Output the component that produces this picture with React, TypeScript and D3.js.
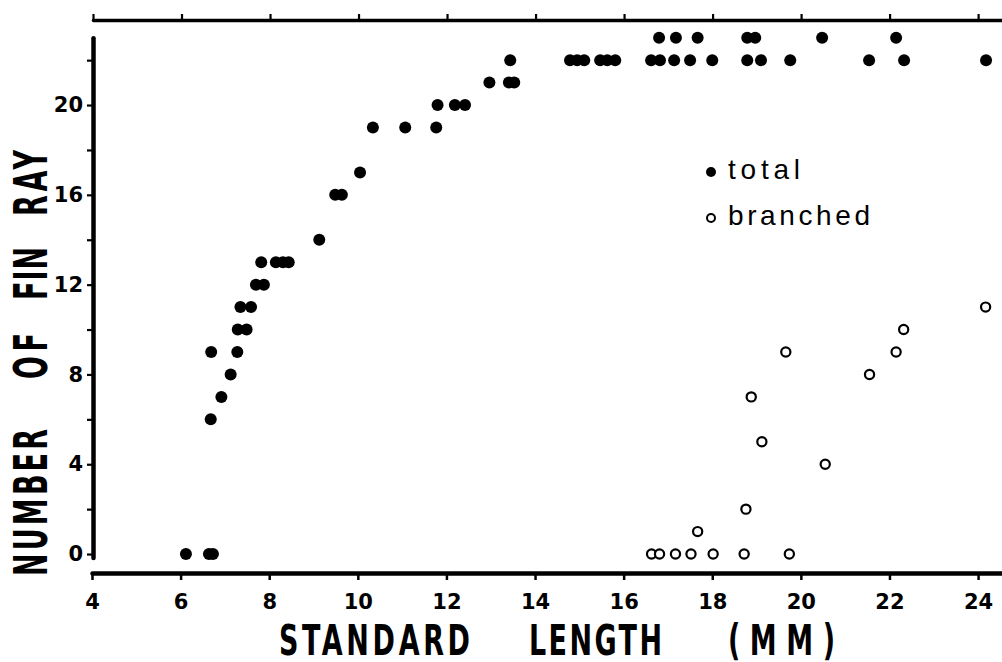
import React, { useEffect, useRef } from "react";
import * as d3 from "d3";

// total fin rays: standard length (mm) and count
const totalLength = [
  6.12, 6.64, 6.73, 6.68, 6.92, 6.69, 7.13, 7.28, 7.29, 7.49, 7.35, 7.59, 7.7, 7.88,
  7.82, 8.15, 8.31, 8.44, 9.13, 9.49, 9.64, 10.05, 10.34, 11.07, 11.77, 11.8, 12.19,
  12.42, 12.97, 13.41, 13.53, 13.44, 14.79, 14.95, 15.11, 15.47, 15.63, 15.81, 16.62,
  16.82, 17.14, 17.5, 18.0, 18.79, 19.1, 19.76, 21.54, 22.33, 24.18, 16.8, 17.18,
  17.67, 18.79, 18.97, 20.48, 22.15,
];
const totalRays = [
  0, 0, 0, 6, 7, 9, 8, 9, 10, 10, 11, 11, 12, 12,
  13, 13, 13, 13, 14, 16, 16, 17, 19, 19, 19, 20, 20,
  20, 21, 21, 21, 22, 22, 22, 22, 22, 22, 22, 22,
  22, 22, 22, 22, 22, 22, 22, 22, 22, 22, 23, 23,
  23, 23, 23, 23, 23,
];

// branched fin rays
const branchedLength = [
  16.63, 16.81, 17.17, 17.52, 18.02, 18.72, 19.74, 17.67, 18.76, 19.12, 18.88, 19.66,
  20.55, 21.55, 22.15, 22.32, 24.17,
];
const branchedRays = [0, 0, 0, 0, 0, 0, 0, 1, 2, 5, 7, 9, 4, 8, 9, 10, 11];

const xTicks = [4, 6, 8, 10, 12, 14, 16, 18, 20, 22, 24];
const yTicks = [0, 2, 4, 6, 8, 10, 12, 14, 16, 18, 20, 22];
const yLabelled = [0, 4, 8, 12, 16, 20];

const WIDTH = 1002;
const HEIGHT = 662;
const numFont = "'DejaVu Sans', Verdana, sans-serif";
const legendFont = "'Liberation Sans', Arial, Helvetica, sans-serif";
const titleFont = "'DejaVu Sans Condensed', 'Liberation Sans Narrow', sans-serif";

export default function App() {
  const ref = useRef<SVGSVGElement>(null);

  useEffect(() => {
    const svg = d3.select(ref.current).attr("width", WIDTH).attr("height", HEIGHT);
    svg.selectAll("*").remove();

    const xScale = d3.scaleLinear().domain([4, 24.54]).range([92, 1002]);
    // 0 -> 554, 20 -> 105
    const yScale = d3.scaleLinear().domain([-0.15, 23]).range([557.4, 37.7]);

    const total = totalLength.map((l, i) => ({ l, r: totalRays[i] }));
    const branched = branchedLength.map((l, i) => ({ l, r: branchedRays[i] }));

    // bottom axis
    const bottom = svg.append("g").attr("transform", "translate(0,573)")
      .call(d3.axisBottom(xScale).tickValues(xTicks).tickSize(7).tickSizeOuter(0).tickPadding(14).tickFormat((d) => String(d)));
    bottom.select(".domain").attr("stroke-width", 4.5).attr("stroke-linecap", "round");
    bottom.selectAll(".tick line").attr("stroke-width", 2.5);
    bottom.selectAll(".tick text")
      .attr("font-family", numFont).attr("font-weight", "bold").attr("font-size", 21).attr("fill", "#000");

    // top axis, no labels
    const top = svg.append("g").attr("transform", "translate(0,20)")
      .call(d3.axisTop(d3.scaleLinear().domain([4, 24.54]).range([93, 1002])).tickValues(xTicks).tickSize(6).tickSizeOuter(0).tickFormat(() => ""));
    top.select(".domain").attr("stroke-width", 3.5).attr("stroke-linecap", "round");
    top.selectAll(".tick line").attr("stroke-width", 2.2);

    // left axis
    const left = svg.append("g").attr("transform", "translate(93,0)")
      .call(d3.axisLeft(yScale).tickValues(yTicks).tickSize(6).tickSizeOuter(0).tickPadding(4)
        .tickFormat((d) => (yLabelled.includes(+d) ? String(d) : "")));
    left.select(".domain").attr("stroke-width", 4.5).attr("stroke-linecap", "round");
    left.selectAll(".tick line").attr("stroke-width", 2.2);
    left.selectAll(".tick text")
      .attr("font-family", numFont).attr("font-weight", "bold").attr("font-size", 21).attr("fill", "#000");

    // total points
    svg.append("g").selectAll("circle")
      .data(total)
      .join("circle")
      .attr("cx", (d) => xScale(d.l))
      .attr("cy", (d) => yScale(d.r))
      .attr("r", 6)
      .attr("fill", "#000");

    // branched points
    svg.append("g").selectAll("circle")
      .data(branched)
      .join("circle")
      .attr("cx", (d) => xScale(d.l))
      .attr("cy", (d) => yScale(d.r))
      .attr("r", 4.6)
      .attr("fill", "#fff")
      .attr("stroke", "#000")
      .attr("stroke-width", 2.2);

    // legend
    const legend = svg.append("g");
    legend.append("circle").attr("cx", 711).attr("cy", 172).attr("r", 5).attr("fill", "#000");
    legend.append("text").attr("x", 728).attr("y", 179).attr("font-family", legendFont).attr("font-size", 28)
      .attr("textLength", 72).attr("lengthAdjust", "spacing").text("total");
    legend.append("circle").attr("cx", 711).attr("cy", 218).attr("r", 4).attr("fill", "#fff")
      .attr("stroke", "#000").attr("stroke-width", 2);
    legend.append("text").attr("x", 728).attr("y", 225).attr("font-family", legendFont).attr("font-size", 28)
      .attr("textLength", 142).attr("lengthAdjust", "spacing").text("branched");

    // x title: condensed, stretched vertically
    const xWords = [
      { t: "STANDARD", x: 279, w: 191 },
      { t: "LENGTH", x: 529, w: 133 },
      { t: "(MM)", x: 728, w: 107 },
    ];
    svg.append("g").attr("transform", "translate(0,655) scale(1,1.45)").selectAll("text")
      .data(xWords)
      .join("text")
      .attr("x", (d) => d.x)
      .attr("y", 0)
      .attr("textLength", (d) => d.w)
      .attr("lengthAdjust", "spacing")
      .attr("font-family", titleFont)
      .attr("font-weight", "bold")
      .attr("font-size", 30)
      .text((d) => d.t);

    // y title (rotated)
    const yWords = [
      { t: "NUMBER", y0: 576, y1: 429 },
      { t: "OF", y0: 379, y1: 333 },
      { t: "FIN", y0: 300, y1: 247 },
      { t: "RAY", y0: 216, y1: 150 },
    ];
    svg.append("g").attr("transform", "translate(47,0) rotate(-90) scale(1,1.55)").selectAll("text")
      .data(yWords)
      .join("text")
      .attr("x", (d) => -d.y0)
      .attr("y", 0)
      .attr("textLength", (d) => d.y0 - d.y1)
      .attr("lengthAdjust", "spacing")
      .attr("font-family", titleFont)
      .attr("font-weight", "bold")
      .attr("font-size", 30)
      .text((d) => d.t);
  }, []);

  return (
    <div style={{ position: "absolute", left: 0, top: 0, background: "#fff" }}>
      <svg ref={ref} style={{ display: "block" }}></svg>
    </div>
  );
}
